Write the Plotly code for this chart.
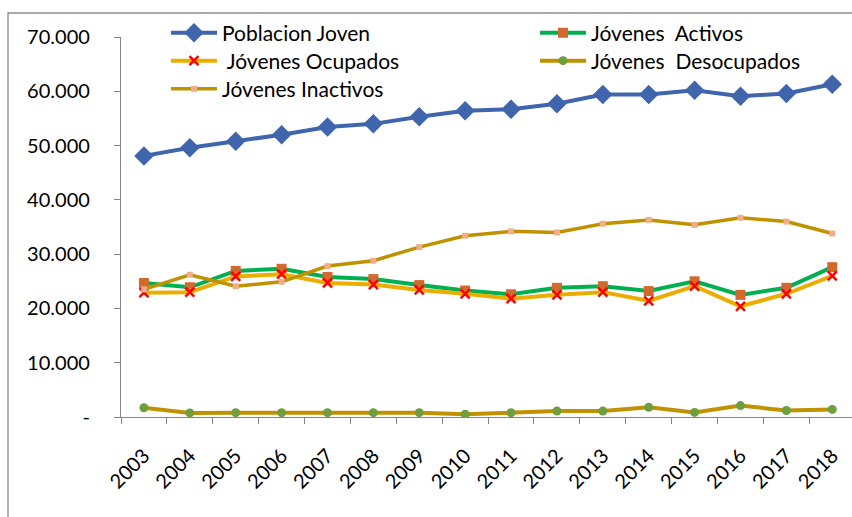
import plotly.graph_objects as go

years = [str(y) for y in range(2003, 2019)]
poblacion = [48100, 49600, 50800, 52000, 53400, 54000, 55300, 56400, 56700, 57700, 59400, 59400, 60200, 59100, 59600, 61300]
activos = [24700, 23900, 26900, 27300, 25800, 25400, 24300, 23300, 22600, 23800, 24100, 23200, 25000, 22500, 23800, 27600]
ocupados = [22900, 23000, 25900, 26300, 24700, 24400, 23400, 22700, 21800, 22500, 23000, 21400, 24100, 20400, 22700, 26000]
desocupados = [1700, 750, 800, 800, 800, 800, 800, 500, 800, 1100, 1100, 1800, 850, 2100, 1200, 1400]
inactivos = [23500, 26200, 24100, 24900, 27800, 28800, 31300, 33400, 34200, 34000, 35600, 36300, 35400, 36700, 36000, 33800]

y_ticks = [0, 10000, 20000, 30000, 40000, 50000, 60000, 70000]
y_labels = ["-", "10.000", "20.000", "30.000", "40.000", "50.000", "60.000", "70.000"]

FONT = "Lato"
fig = go.Figure()
fig.add_trace(go.Scatter(x=years, y=poblacion, name="Poblacion Joven", mode="lines+markers",
                         line=dict(color="#3F65AD", width=4),
                         marker=dict(symbol="diamond", size=15, color="#3F65AD"), legend="legend"))
fig.add_trace(go.Scatter(x=years, y=activos, name="Jóvenes\u00a0 Activos", mode="lines+markers",
                         line=dict(color="#00B050", width=4),
                         marker=dict(symbol="square", size=10, color="#D2692E"), legend="legend2"))
fig.add_trace(go.Scatter(x=years, y=ocupados, name="\u00a0Jóvenes Ocupados", mode="lines+markers",
                         line=dict(color="#EBAE00", width=4),
                         marker=dict(symbol="x-thin", size=9, color="#FF0000",
                                     line=dict(color="#FF0000", width=2.5)), legend="legend3"))
fig.add_trace(go.Scatter(x=years, y=desocupados, name="Jóvenes\u00a0 Desocupados", mode="lines+markers",
                         line=dict(color="#C09200", width=4),
                         marker=dict(symbol="circle", size=9, color="#6E9F3F"), legend="legend4"))
fig.add_trace(go.Scatter(x=years, y=inactivos, name="Jóvenes Inactivos", mode="lines+markers",
                         line=dict(color="#C09200", width=3.5),
                         marker=dict(symbol="square", size=6, color="#F2AE8C"), legend="legend5"))

L, T, B = 121, 37, 100
W, H = 852, 517
pw = W - L
ph = H - T - B

def px(x):
    return (x - L) / pw

def py(y):
    return (H - B - y) / ph

def leg(xp, yp):
    return dict(x=px(xp), y=py(yp), bgcolor="rgba(0,0,0,0)",
                font=dict(family=FONT, size=21, color="#000"),
                itemwidth=46, orientation="v", xanchor="left", yanchor="middle",
                itemclick=False)

fig.update_layout(
    width=W, height=H,
    margin=dict(l=L, r=0, t=T, b=B),
    paper_bgcolor="white", plot_bgcolor="white",
    font=dict(family=FONT, size=20, color="#000"),
    showlegend=True,
    legend=leg(166, 33),
    legend2=leg(535, 33),
    legend3=leg(166, 61),
    legend4=leg(535, 61),
    legend5=leg(166, 89),
    xaxis=dict(type="category", range=[-0.5, 15.43], showline=True, linecolor="#868686", linewidth=1.3,
               ticks="outside", ticklen=6, tickcolor="#868686", tickson="boundaries",
               tickangle=-45, showgrid=False, zeroline=False, ticklabelstandoff=18,
               tickfont=dict(family=FONT, size=20)),
    yaxis=dict(range=[0, 70000], tickvals=y_ticks, ticktext=y_labels, showline=True,
               linecolor="#868686", linewidth=1.3, ticks="outside", ticklen=6, tickcolor="#868686",
               showgrid=False, zeroline=False, ticklabelstandoff=20,
               tickfont=dict(family=FONT, size=20)),
    shapes=[dict(type="rect", xref="paper", yref="paper", x0=px(8), y0=py(525), x1=px(870), y1=py(13),
                 line=dict(color="#8C8C8C", width=1.3), fillcolor="rgba(0,0,0,0)", layer="below")],
)

fig.write_html("out.html")
